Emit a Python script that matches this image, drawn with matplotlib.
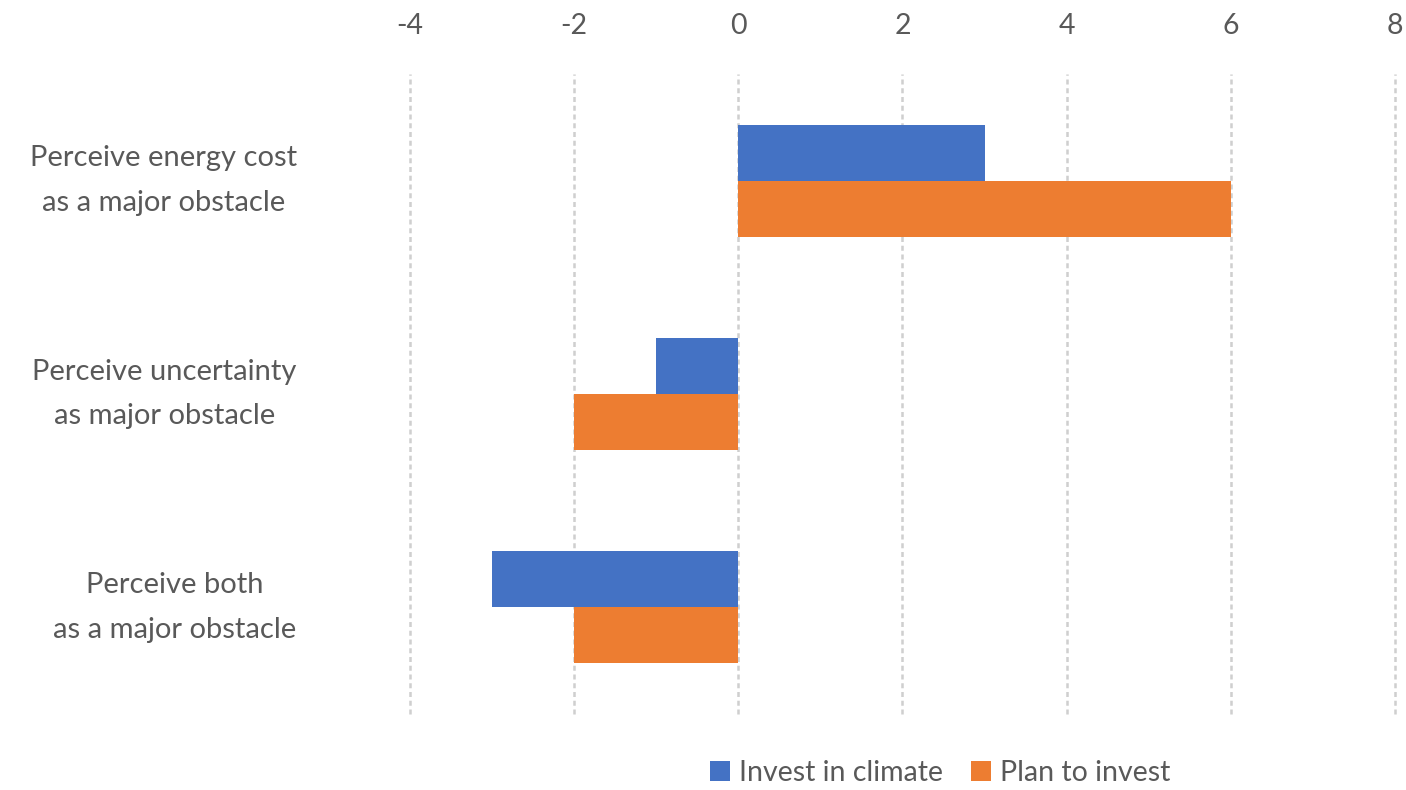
import numpy as np
import matplotlib.pyplot as plt

plt.rcParams['font.family'] = ['Lato', 'DejaVu Sans']

categories = ["Perceive energy cost\nas a major obstacle",
              "Perceive uncertainty\nas major obstacle",
              "Perceive both\nas a major obstacle"]
invest_in_climate = [3, -1, -3]
plan_to_invest = [6, -2, -2]
x_ticks = [-4, -2, 0, 2, 4, 6, 8]

text_color = "#595959"
blue = "#4472C4"
orange = "#ED7D31"

fig = plt.figure(figsize=(14.06, 7.90), dpi=100)
ax = fig.add_axes([410 / 1406, 1 - 714 / 790, 985 / 1406, 640 / 790])

y = np.arange(len(categories))
h = 0.2625
ax.barh(y - h / 2, invest_in_climate, height=h, color=blue, label="Invest in climate", zorder=3)
ax.barh(y + h / 2, plan_to_invest, height=h, color=orange, label="Plan to invest", zorder=3)

ax.set_xlim(-4, 8)
ax.set_ylim(2.5, -0.5)
ax.set_xticks(x_ticks)
ax.set_xticklabels([str(t) for t in x_ticks])
ax.xaxis.tick_top()
ax.tick_params(axis="x", length=0, pad=25, labelsize=20.5, labelcolor=text_color)
ax.set_yticks([])
for s in ax.spines.values():
    s.set_visible(False)
ax.grid(axis="x", color="#cfcfcf", linestyle=(0, (2, 1.5)), linewidth=1.8, zorder=0)
for gl in ax.get_xgridlines():
    gl.set_clip_on(False)

# category labels to the left of the plot
for yi, label in zip(y, categories):
    ax.text(-0.115, yi, label, transform=ax.get_yaxis_transform(), ha="right", va="center",
            multialignment="center", fontsize=21, color=text_color, linespacing=1.9)

leg = fig.legend(loc="center", bbox_to_anchor=(940 / 1406, 1 - 773 / 790), ncol=2,
                 frameon=False, fontsize=20.5, handlelength=0.7, handleheight=0.7,
                 handletextpad=0.3, columnspacing=1.0)
for t in leg.get_texts():
    t.set_color(text_color)

fig.savefig("out.png", dpi=100)
